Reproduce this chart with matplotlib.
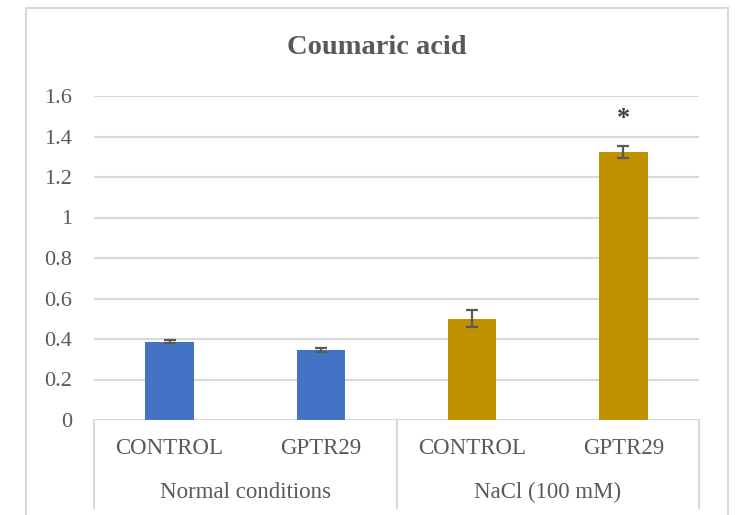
import matplotlib.pyplot as plt
from matplotlib.lines import Line2D
from matplotlib.patches import Rectangle

# data
groups = ["Normal conditions", "NaCl (100 mM)"]
labels = ["CONTROL", "GPTR29", "CONTROL", "GPTR29"]
values = [0.387, 0.346, 0.501, 1.325]
errors = [0.008, 0.012, 0.042, 0.029]
colors = ["#4472C4", "#4472C4", "#BF9000", "#BF9000"]
star_y = 1.49
yticks = [0, 0.2, 0.4, 0.6, 0.8, 1, 1.2, 1.4, 1.6]
ytick_labels = ["0", "0.2", "0.4", "0.6", "0.8", "1", "1.2", "1.4", "1.6"]

plt.rcParams["font.family"] = ["Liberation Serif", "DejaVu Serif"]
txt = "#595959"
grid_c = "#D9D9D9"

W, H = 735, 515
fig = plt.figure(figsize=(W / 100, H / 100), dpi=100)

# outer chart border
fig.patches.append(Rectangle((26 / W, -0.05), (728 - 26) / W, (H - 8) / H + 0.05,
                             transform=fig.transFigure, fill=False,
                             edgecolor=grid_c, linewidth=1.5))

left, right, bottom, top = 94, 699, 420, 96
ax = fig.add_axes([left / W, (H - bottom) / H, (right - left) / W, (bottom - top) / H])

x = list(range(len(values)))
ax.bar(x, values, width=0.32, color=colors, zorder=3)
ax.errorbar(x, values, yerr=errors, fmt="none", ecolor="#595959",
            elinewidth=1.6, capsize=4.3, capthick=1.6, zorder=4)
ax.text(3, star_y, "*", ha="center", va="center", fontsize=19,
        fontweight="bold", color="#404040")

ax.set_xlim(-0.5, 3.5)
ax.set_ylim(0, 1.6)
ax.set_yticks(yticks)
ax.set_yticklabels(ytick_labels, fontsize=16, color=txt)
ax.tick_params(axis="y", length=0, pad=16)
ax.set_xticks([])
ax.grid(axis="y", color=grid_c, linewidth=1.5, zorder=0)
for s in ax.spines.values():
    s.set_visible(False)

# category axis: baseline and group dividers
ax.axhline(0, color=grid_c, linewidth=1.5, zorder=2)
to_fig = ax.get_xaxis_transform()
for xv in [-0.5, 1.5, 3.5]:
    ax.add_line(Line2D([xv, xv], [0, -(508 - bottom) / (bottom - top)],
                       transform=to_fig, color=grid_c, linewidth=1.5, clip_on=False))

cat_y = -(449 - bottom) / (bottom - top)
grp_y = -(492 - bottom) / (bottom - top)
for xi, lab in zip(x, labels):
    ax.text(xi, cat_y, lab, transform=to_fig, ha="center", va="center",
            fontsize=16.5, color=txt)
for gi, g in enumerate(groups):
    ax.text(gi * 2 + 0.5, grp_y, g, transform=to_fig, ha="center", va="center",
            fontsize=16.5, color=txt)

fig.text(377 / W, (H - 47) / H, "Coumaric acid", ha="center", va="center",
         fontsize=20.5, fontweight="bold", color=txt)

fig.savefig("out.png", dpi=100)
